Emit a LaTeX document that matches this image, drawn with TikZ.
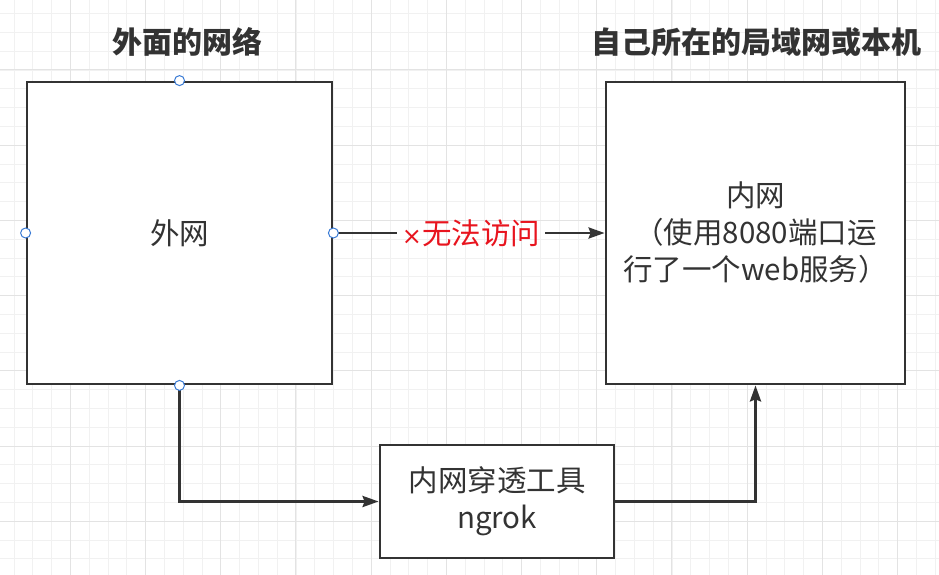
\documentclass[tikz,border=0pt]{standalone}
\usepackage{fontspec}
\setmainfont{Noto Sans CJK SC}
\newfontfamily\symfont{DejaVu Sans}
\usetikzlibrary{arrows.meta}
\definecolor{boxgray}{HTML}{333333}
\definecolor{textgray}{HTML}{333333}
\definecolor{portblue}{HTML}{3A7BD5}
\definecolor{gridlight}{HTML}{F1F1F1}
\definecolor{griddark}{HTML}{E3E3E3}
\definecolor{warnred}{HTML}{E8141E}

\begin{document}
\begin{tikzpicture}[x=1pt,y=-1pt,
    box/.style={draw=boxgray, line width=2.8pt, fill=white, align=center, text=textgray,
        font=\fontsize{29.5}{37}\selectfont, inner sep=0pt},
    title/.style={text=textgray, font=\bfseries\fontsize{30}{36}\selectfont},
    plain/.style={draw=boxgray, line width=2.8pt},
    link/.style={plain, -{Stealth[length=16pt,width=11pt,inset=2pt]}},
    port/.style={circle, draw=portblue, fill=white, line width=1pt, inner sep=0pt, minimum size=10pt},
    gridminor/.style={draw=gridlight, line width=0.8pt},
    gridmajor/.style={draw=griddark, line width=1pt}]
    % Page and grid
    \fill[white] (0,0) rectangle (939,575);
    \useasboundingbox (0,0) rectangle (939,575);
    \foreach \k in {0,...,49} \draw[gridminor] ({14+18.8*\k},0) -- ({14+18.8*\k},575);
    \foreach \k in {0,...,29} \draw[gridminor] (0,{13.6+18.8*\k}) -- (939,{13.6+18.8*\k});
    \foreach \k in {0,...,11} \draw[gridmajor] ({70.3+75.2*\k},0) -- ({70.3+75.2*\k},575);
    \foreach \k in {0,...,6} \draw[gridmajor] (0,{70+75.2*\k}) -- (939,{70+75.2*\k});

    % Titles
    \node[title] (outertitle) at (187,42) {外面的网络};
    \node[title] (innertitle) at (756,42) {自己所在的局域网或本机};

    % Boxes
    \node[box, minimum width=305pt, minimum height=302pt] (outer) at (179.5,233) {外网};
    \node[box, minimum width=299pt, minimum height=302pt] (inner) at (755.5,233) {内网\\（使用8080端口运\\行了一个web服务）};
    \node[box, minimum width=234pt, minimum height=113pt] (tool) at (497,501.5) {内网穿透工具\\ngrok};

    % Direct access, blocked
    \node[text=warnred, font=\fontsize{29.5}{34}\selectfont, inner sep=5pt] (blocked) at (471,233) {{\symfont\fontsize{24}{28}\selectfont ×}无法访问};
    \draw[plain] (outer.east) -- (blocked.west);
    \draw[link] (blocked.east) -- (inner.west);

    % Access through the tunnel
    \draw[link] (outer.south) |- (tool.west);
    \draw[link] (tool.east) -| (inner.south);

    % Connection points of the selected box
    \foreach \a in {north,south,east,west} \node[port] (port-\a) at (outer.\a) {};
\end{tikzpicture}
\end{document}
